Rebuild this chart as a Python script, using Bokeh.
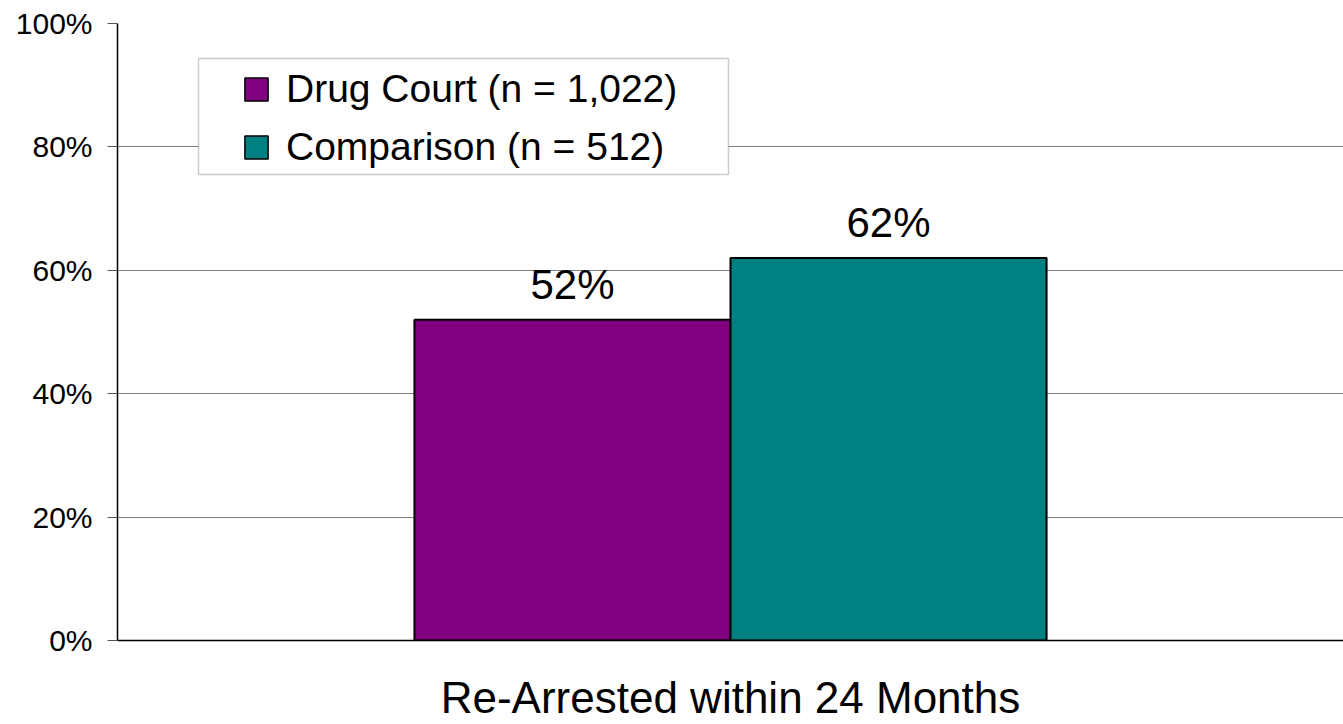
from bokeh.plotting import figure
from bokeh.models import (ColumnDataSource, Range1d, FactorRange, FixedTicker,
                          NumeralTickFormatter, Legend, LegendItem, LabelSet,
                          BoxAnnotation)
from bokeh.core.properties import value
from bokeh.transform import dodge
from bokeh.embed import file_html
from bokeh.resources import INLINE

# ---- data ----
categories = ["Re-Arrested within 24 Months"]
series = ["Drug Court (n = 1,022)", "Comparison (n = 512)"]
values = [0.52, 0.62]
y_ticks = [0, 0.2, 0.4, 0.6, 0.8, 1.0]

# ---- styles ----
colors = ["#800080", "#008080"]
FONT = "Liberation Sans"
bar_w = 0.2578
offsets = [-bar_w / 2, bar_w / 2]

p = figure(width=1343, height=724, x_range=FactorRange(factors=categories),
           y_range=Range1d(0, 1), output_backend="svg", toolbar_location=None,
           min_border_left=117, min_border_right=0, min_border_top=23,
           min_border_bottom=82)
p.outline_line_color = None
p.background_fill_color = "white"
p.border_fill_color = "white"

items = []
for name, val, col, off in zip(series, values, colors, offsets):
    src = ColumnDataSource(dict(x=categories, top=[val], label=[f"{val:.0%}"]))
    p.vbar(x=dodge("x", off, range=p.x_range), top="top", width=bar_w, source=src,
           fill_color=col, line_color="black", line_width=2)
    proxy = p.scatter(x=dodge("x", off, range=p.x_range), y="top", source=src,
                      marker="square", size=0, fill_color=col,
                      line_color="black", line_width=1.5)
    items.append(LegendItem(label=name, renderers=[proxy]))
    p.add_layout(LabelSet(x=dodge("x", off, range=p.x_range), y="top", text="label",
                          source=src, text_align="center", text_baseline="alphabetic",
                          y_offset=21, text_font=value(FONT), text_font_size=value("42px"),
                          text_color="black"))

# legend frame (layout box, screen units relative to the plot frame)
p.add_layout(BoxAnnotation(left=81, right=611, bottom=466, top=582,
                           left_units="screen", right_units="screen",
                           bottom_units="screen", top_units="screen",
                           fill_color="white", fill_alpha=1.0,
                           line_color="#555555", line_width=1.5,
                           editable=False))

legend = Legend(items=items, location=(109, 464), orientation="vertical",
                glyph_width=60, glyph_height=58, label_standoff=0,
                padding=0, spacing=0, margin=0,
                label_text_font=FONT, label_text_font_size="39px",
                label_text_color="black", border_line_color=None,
                background_fill_alpha=0.0)
p.add_layout(legend)

# y axis
p.yaxis.ticker = FixedTicker(ticks=y_ticks)
p.yaxis.formatter = NumeralTickFormatter(format="0%")
p.yaxis.axis_line_color = "black"
p.yaxis.axis_line_width = 1.5
p.yaxis.major_tick_out = 10
p.yaxis.major_tick_in = 0
p.yaxis.major_tick_line_color = "#555555"
p.yaxis.minor_tick_line_color = None
p.yaxis.major_label_standoff = 15
p.yaxis.major_label_text_font = FONT
p.yaxis.major_label_text_font_size = "30px"
p.yaxis.major_label_text_color = "black"

# x axis
p.xaxis.axis_line_color = "black"
p.xaxis.axis_line_width = 1.5
p.xaxis.major_tick_line_color = None
p.xaxis.major_tick_out = 0
p.xaxis.major_tick_in = 0
p.xaxis.major_label_standoff = 32
p.xaxis.major_label_text_font = FONT
p.xaxis.major_label_text_font_size = "44px"
p.xaxis.major_label_text_color = "black"

p.xgrid.grid_line_color = None
p.ygrid.grid_line_color = "#808080"
p.ygrid.grid_line_width = 1.2
p.ygrid.ticker = FixedTicker(ticks=y_ticks)

open("out.html", "w").write(file_html(p, INLINE))
